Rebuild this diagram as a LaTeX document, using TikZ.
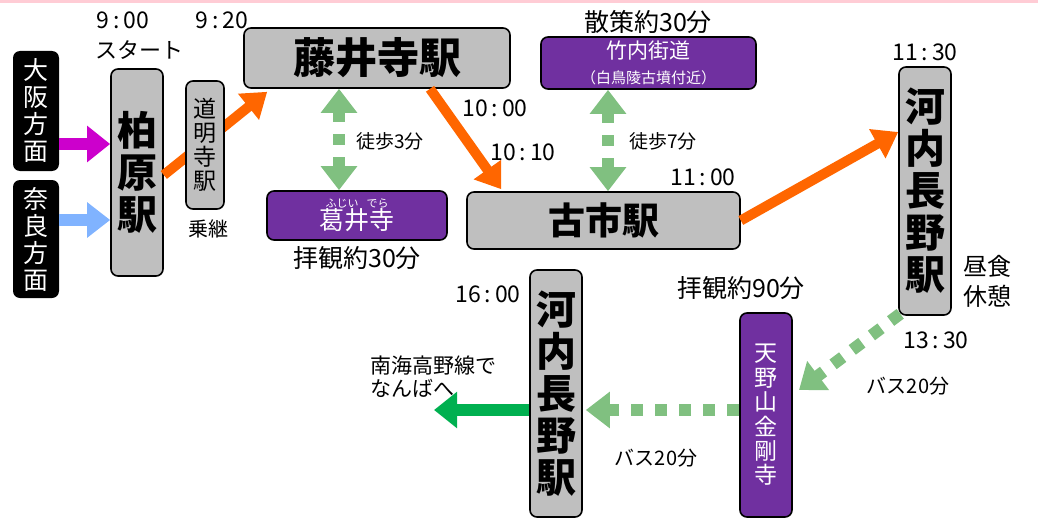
\documentclass[tikz,border=0pt]{standalone}
\usepackage{fontspec}
\setmainfont{Noto Sans CJK JP}
\usepackage{tikz}
\usetikzlibrary{positioning,arrows.meta}
\usepackage{xcolor}

\definecolor{stngray}{HTML}{BFBFBF}
\definecolor{spotpurple}{HTML}{7030A0}
\definecolor{trainorange}{HTML}{FF6600}
\definecolor{walkgreen}{HTML}{80C080}
\definecolor{exitgreen}{HTML}{00B050}
\definecolor{osakamag}{HTML}{CC00CC}
\definecolor{narablue}{HTML}{80B3FF}
\definecolor{topbar}{HTML}{FFCCD5}

\tikzset{
  stn/.style={draw=black,fill=stngray,line width=0.8pt,rounded corners=3.5pt,inner sep=0pt,align=center},
  spot/.style={draw=black,fill=spotpurple,text=white,line width=0.8pt,rounded corners=3.5pt,inner sep=0pt,align=center},
  dir/.style={fill=black,text=white,rounded corners=3.5pt,inner sep=0pt,align=center,font=\fontsize{12.5}{13.5}\selectfont},
  train/.style={trainorange,line width=5pt,-{Triangle[length=12pt,width=16pt]}},
  walk/.style={walkgreen,line width=6pt,dash pattern=on 5.5pt off 6pt,{Triangle[length=12pt,width=17.5pt]}-{Triangle[length=12pt,width=17.5pt]}},
  bus/.style={walkgreen,line width=6pt,dash pattern=on 6pt off 6pt,-{Triangle[length=12pt,width=17.5pt]}},
  tm/.style={font=\fontsize{11.5}{12}\selectfont},
  note/.style={font=\fontsize{10}{12}\selectfont},
  stay/.style={font=\fontsize{12.5}{14}\selectfont},
}

\begin{document}
\begin{tikzpicture}[x=0.5pt,y=-0.5pt]
\useasboundingbox (0,0) rectangle (1038,519);
\fill[topbar] (0,0) rectangle (1038,3);

\node[dir,minimum width=23pt,minimum height=60pt] (osaka) at (36,111) {大\\阪\\方\\面};
\node[dir,minimum width=23pt,minimum height=59pt] (nara) at (36,239) {奈\\良\\方\\面};
\node[stn,minimum width=26pt,minimum height=103.5pt,font=\bfseries\fontsize{20}{21}\selectfont] (kashiwara) at (137,172.5) {柏\\原\\駅};
\node[stn,minimum width=133pt,minimum height=30pt,font=\bfseries\fontsize{21}{21}\selectfont] (fujiidera) at (377,58) {藤井寺駅};
\draw[train] (kashiwara.east |- 0,175) -- ([shift={(12pt,-1.5pt)}]fujiidera.south west);
\node[stn,minimum width=19pt,minimum height=64pt,font=\fontsize{11.5}{12}\selectfont] (domyoji) at (205,145) {道\\明\\寺\\駅};
\node[spot,minimum width=90pt,minimum height=24.5pt,font=\fontsize{12.5}{11}\selectfont] (fujiiji) at (357,215.5) {{\fontsize{5.5}{6}\selectfont ふじい\hspace{4pt}でら}\\葛井寺};
\node[stn,minimum width=136.5pt,minimum height=28.5pt,font=\bfseries\fontsize{18.5}{19}\selectfont] (furuichi) at (603.5,220.5) {古市駅};
\node[spot,minimum width=107.5pt,minimum height=26pt,font=\fontsize{10.5}{12.5}\selectfont] (takenouchi) at (648.5,63) {竹内街道\\{\fontsize{7.5}{8}\selectfont （白鳥陵古墳付近）}};
\node[stn,minimum width=26pt,minimum height=124pt,font=\bfseries\fontsize{20}{21}\selectfont] (nagano) at (925,191) {河\\内\\長\\野\\駅};
\node[spot,minimum width=26pt,minimum height=102pt,font=\fontsize{11.5}{12.2}\selectfont] (kongoji) at (766,415) {天\\野\\山\\金\\剛\\寺};
\node[stn,minimum width=26pt,minimum height=123.5pt,font=\bfseries\fontsize{20}{21}\selectfont] (naganoB) at (556,393.5) {河\\内\\長\\野\\駅};
\coordinate (busend) at (799,390);
\coordinate (namba) at (434,410);

\draw[osakamag,line width=6pt,-{Triangle[length=11.5pt,width=17.5pt]}] (osaka.east |- 0,144) -- (kashiwara.west |- 0,144);
\draw[narablue,line width=6pt,-{Triangle[length=11.5pt,width=17pt]}] (nara.east |- 0,220) -- (kashiwara.west |- 0,220);
\draw[train] ([xshift=26.5pt]fujiidera.south) -- ([shift={(17.5pt,1pt)}]furuichi.north west);
\draw[train] (furuichi.east) -- ([yshift=29.5pt]nagano.west);
\draw[walk] (339,0 |- fujiidera.south) -- (339,0 |- fujiiji.north);
\draw[walk] (608,0 |- takenouchi.south) -- (608,0 |- furuichi.north);
\draw[bus] ([shift={(1pt,1pt)}]nagano.south west) -- (busend);
\draw[bus,shorten >=1.5pt] (kongoji.west |- 0,410) -- (naganoB.east |- 0,410);
\draw[exitgreen,line width=6pt,-{Triangle[length=11.5pt,width=17.5pt]}] (naganoB.west |- 0,410) -- (namba);

\node[tm] (t900) at (123,20) {9\,:\,00};
\node[tm] (t920) at (222,20) {9\,:\,20};
\node[font=\fontsize{11}{12}\selectfont] (start) at (139,50) {スタート};
\node[note] (transfer) at (208,229) {乗継};
\node[font=\fontsize{9.5}{11}\selectfont] (walk3) at (390,141) {徒歩3分};
\node[stay] (stay30) at (357,258) {拝観約30分};
\node[stay] (stroll) at (648,22) {散策約30分};
\node[font=\fontsize{9.5}{11}\selectfont] (walk7) at (663,141) {徒歩7分};
\node[tm] (t1000) at (495,108) {10\,:\,00};
\node[tm] (t1010) at (523,152) {10\,:\,10};
\node[tm] (t1100) at (703,177) {11\,:\,00};
\node[tm] (t1130) at (925,52) {11\,:\,30};
\node[font=\fontsize{12}{15}\selectfont,align=center] (lunch) at (987,281) {昼食\\休憩};
\node[tm] (t1330) at (936,340) {13\,:\,30};
\node[note] (bus1) at (908,386) {バス20分};
\node[stay] (stay90) at (741,288) {拝観約90分};
\node[note] (bus2) at (656,458) {バス20分};
\node[tm] (t1600) at (488,294) {16\,:\,00};
\node[font=\fontsize{10.5}{11.5}\selectfont,align=left,anchor=west] (nankai) at (363,377) {南海高野線で\\なんばへ};

\end{tikzpicture}
\end{document}
